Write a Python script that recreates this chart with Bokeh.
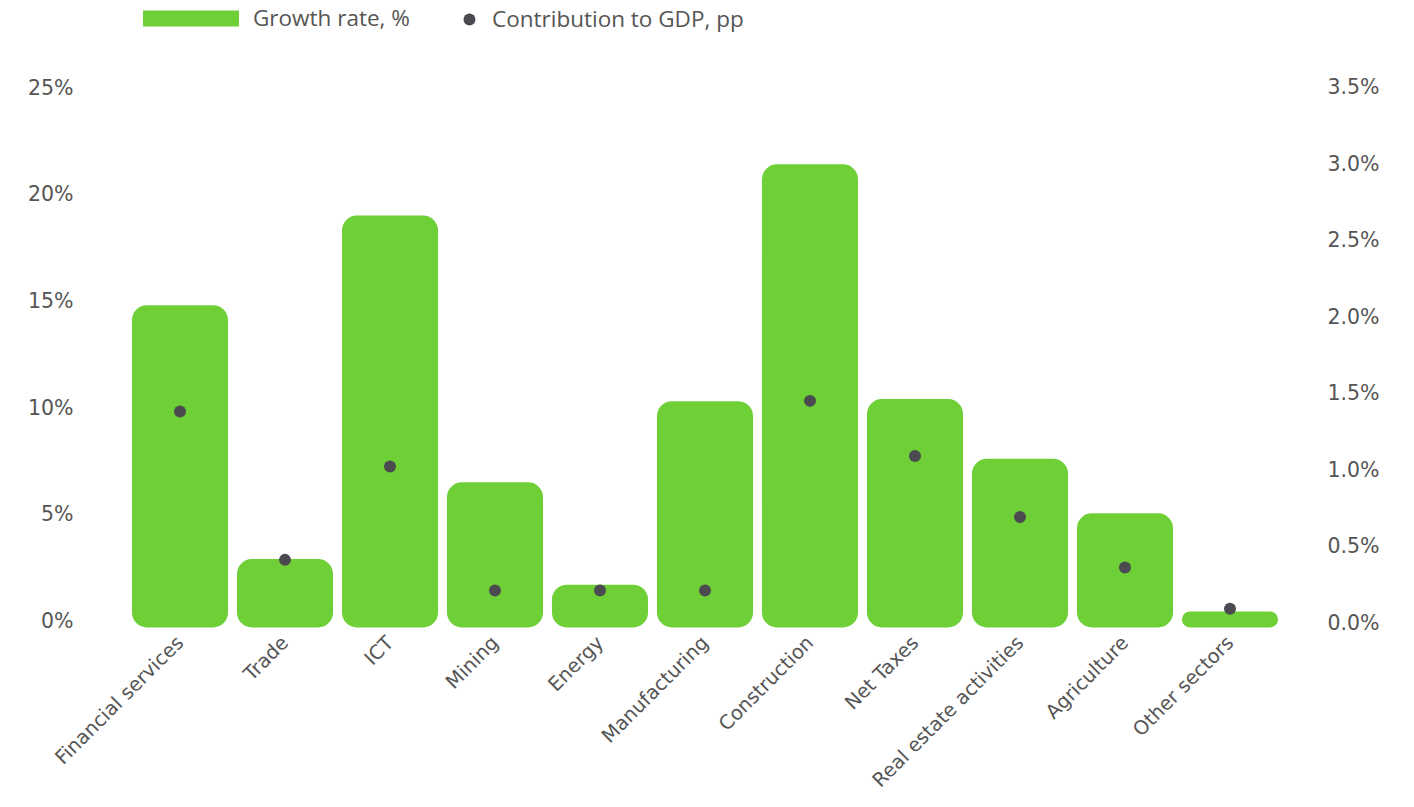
from bokeh.plotting import figure
from bokeh.models import (ColumnDataSource, Range1d, LinearAxis, Legend, LegendItem,
                          FixedTicker, CustomJSTickFormatter)
from bokeh.embed import file_html
from bokeh.resources import INLINE
import math

categories = ["Financial services", "Trade", "ICT", "Mining", "Energy", "Manufacturing",
              "Construction", "Net Taxes", "Real estate activities", "Agriculture", "Other sectors"]
growth = [14.8, 2.9, 19.0, 6.5, 1.7, 10.3, 21.4, 10.4, 7.6, 5.05, 0.45]
contrib = [1.38, 0.41, 1.02, 0.21, 0.21, 0.21, 1.45, 1.09, 0.69, 0.36, 0.09]
left_ticks = [0, 5, 10, 15, 20, 25]
right_ticks = [0.0, 0.5, 1.0, 1.5, 2.0, 2.5, 3.0, 3.5]

GREEN = "#6ecf37"
DOT = "#4b4a50"
TXT = "#555555"

src = ColumnDataSource(dict(cat=categories, growth=growth, contrib=contrib,
                            base=[-0.3] * len(categories)))

p = figure(width=1414, height=807, x_range=categories, y_range=Range1d(-0.445, 29.08),
           output_backend="svg", toolbar_location=None,
           min_border_left=127, min_border_right=132, min_border_top=0, min_border_bottom=177)
p.extra_y_ranges = {"r": Range1d(-0.052, 4.069), "hidden": Range1d(1000, 1001)}

bars = p.vbar(x="cat", top="growth", bottom="base", width=0.915, source=src,
              fill_color=GREEN, line_color=None, border_radius=15)
dots = p.scatter(x="cat", y="contrib", source=src, y_range_name="r", size=12,
                 fill_color=DOT, line_color=None)
# legend proxy (drawn outside its own range, so only its legend swatch shows)
pill = p.line(x="cat", y="growth", source=src, y_range_name="hidden",
              line_color=GREEN, line_width=16, line_cap="round")

p.outline_line_color = None
p.xgrid.grid_line_color = None
p.ygrid.grid_line_color = None
p.background_fill_color = "white"
p.border_fill_color = "white"

TICK_FONT = "DejaVu Sans"
TICK_SIZE = "20.5px"

# left axis
ax = p.yaxis[0]
ax.ticker = FixedTicker(ticks=left_ticks)
ax.formatter = CustomJSTickFormatter(code="return tick.toFixed(0) + '%';")
ax.axis_line_color = None
ax.major_tick_line_color = None
ax.minor_tick_line_color = None
ax.major_tick_out = 0
ax.major_tick_in = 0
ax.major_label_standoff = 54
ax.major_label_text_font = TICK_FONT
ax.major_label_text_font_size = TICK_SIZE
ax.major_label_text_color = TXT

# right axis
rax = LinearAxis(y_range_name="r")
rax.ticker = FixedTicker(ticks=right_ticks)
rax.formatter = CustomJSTickFormatter(code="return tick.toFixed(1) + '%';")
rax.axis_line_color = None
rax.major_tick_line_color = None
rax.minor_tick_line_color = None
rax.major_tick_out = 0
rax.major_tick_in = 0
rax.major_label_standoff = 45
rax.major_label_text_font = TICK_FONT
rax.major_label_text_font_size = TICK_SIZE
rax.major_label_text_color = TXT
p.add_layout(rax, "right")

# x axis
xa = p.xaxis[0]
xa.axis_line_color = None
xa.major_tick_line_color = None
xa.minor_tick_line_color = None
xa.major_tick_out = 0
xa.major_tick_in = 0
xa.major_label_orientation = math.pi / 4
xa.major_label_standoff = 9
xa.major_label_text_font = "DejaVu Sans"
xa.major_label_text_font_size = "19.5px"
xa.major_label_text_color = TXT

# legends
leg1 = Legend(items=[LegendItem(label="Growth rate, %", renderers=[pill])],
              location=(16, 597), orientation="horizontal", glyph_width=96, glyph_height=20,
              label_standoff=14, padding=0, margin=0, spacing=0, border_line_color=None,
              background_fill_alpha=0, label_text_font="Open Sans",
              label_text_font_size="22.5px", label_text_color=TXT)
leg2 = Legend(items=[LegendItem(label="Contribution to GDP, pp", renderers=[dots])],
              location=(327, 596), orientation="horizontal", glyph_width=30, glyph_height=30,
              label_standoff=8, padding=0, margin=0, spacing=0, border_line_color=None,
              background_fill_alpha=0, label_text_font="Open Sans",
              label_text_font_size="22.5px", label_text_color=TXT)
p.add_layout(leg1)
p.add_layout(leg2)

open("out.html", "w").write(file_html(p, INLINE))
